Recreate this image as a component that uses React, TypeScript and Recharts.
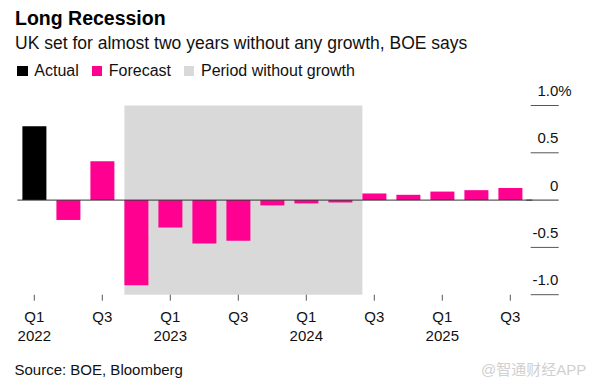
import { BarChart, Bar, XAxis, YAxis, ReferenceArea, ReferenceLine } from "recharts";

const QUARTERS = [
  "Q1 2022", "Q2 2022", "Q3 2022", "Q4 2022",
  "Q1 2023", "Q2 2023", "Q3 2023", "Q4 2023",
  "Q1 2024", "Q2 2024", "Q3 2024", "Q4 2024",
  "Q1 2025", "Q2 2025", "Q3 2025",
];
const ACTUAL = [0.78, null, null, null, null, null, null, null, null, null, null, null, null, null, null];
const FORECAST = [null, -0.21, 0.41, -0.9, -0.29, -0.46, -0.43, -0.056, -0.035, -0.025, 0.07, 0.056, 0.09, 0.105, 0.127];
const Y_TICKS = [-1, -0.5, 0, 0.5, 1];
const NO_GROWTH_FROM = "Q4 2022";
const NO_GROWTH_TO = "Q2 2024";

const data = QUARTERS.map((q, i) => ({ q, actual: ACTUAL[i], forecast: FORECAST[i] }));

const FONT = '"Liberation Sans", Arial, "Noto Sans CJK SC", sans-serif';
const PINK = "#FF0090";
const GREY_AREA = "#D9D9D9";
const GAP = 0.15; // barCategoryGap
const BAND = 34;

function XTick({ x, y, payload }: any) {
  const [qtr, year] = String(payload.value).split(" ");
  return (
    <g>
      <text x={x} y={y + 19} textAnchor="middle" fontSize={15} fill="#111" fontFamily={FONT}>{qtr}</text>
      {qtr === "Q1" && (
        <text x={x} y={y + 38.3} textAnchor="middle" fontSize={15} fill="#111" fontFamily={FONT}>{year}</text>
      )}
    </g>
  );
}

function YTick({ x, y, payload }: any) {
  const v = payload.value as number;
  const label = v === 0 ? "0" : v.toFixed(1);
  return (
    <g>
      {v === 0
        ? <line x1={x - 1} x2={x + 31.4} y1={y} y2={y} stroke="#333" strokeWidth={1} />
        : <line x1={x + 3.4} x2={x + 31.4} y1={y} y2={y} stroke="#555" strokeWidth={1} />}
      <text x={x + 31} y={y - 9.5} textAnchor="end" fontSize={15} fill="#111" fontFamily={FONT}>{label}</text>
      {v === 1 && (
        <text x={x + 31} y={y - 9.5} textAnchor="start" fontSize={15} fill="#111" fontFamily={FONT}>%</text>
      )}
    </g>
  );
}

// the shaded period starts at the left edge of the first bar, not the band
function AreaShape({ x, y, width, height }: any) {
  return <rect x={x + BAND * GAP} y={y} width={width} height={height} fill={GREY_AREA} />;
}

function ZeroLine({ x1, x2, y1 }: any) {
  return <line x1={x1 + BAND * GAP} x2={x2} y1={y1} y2={y1} stroke="#333" strokeWidth={1} />;
}

function LegendItem({ color, label }: { color: string; label: string }) {
  return (
    <div style={{ display: "flex", alignItems: "center", marginRight: 13 }}>
      <div style={{ width: 10.4, height: 10.4, background: color, marginRight: 6.6, marginTop: 1 }} />
      <span>{label}</span>
    </div>
  );
}

export default function App() {
  return (
    <div style={{ position: "absolute", left: 0, top: 0, width: 599, height: 388, background: "#fff", fontFamily: FONT, color: "#111" }}>
      <div style={{ position: "absolute", left: 15, top: 8.5, fontSize: 19.5, lineHeight: "19.5px", fontWeight: 700, color: "#000" }}>
        Long Recession
      </div>
      <div style={{ position: "absolute", left: 15, top: 34.5, fontSize: 17.5, lineHeight: "17.5px" }}>
        UK set for almost two years without any growth, BOE says
      </div>
      <div style={{ position: "absolute", left: 17.3, top: 62.5, fontSize: 16, lineHeight: "16px", display: "flex" }}>
        <LegendItem color="#000" label="Actual" />
        <LegendItem color={PINK} label="Forecast" />
        <LegendItem color={GREY_AREA} label="Period without growth" />
      </div>

      <div style={{ position: "absolute", left: 0, top: 0 }}>
        <BarChart
          width={599}
          height={388}
          data={data}
          margin={{ top: 105.5, right: 11.7, left: 17.3, bottom: 33.3 }}
          barCategoryGap={`${GAP * 100}%`}
        >
          <ReferenceArea
            x1={NO_GROWTH_FROM}
            x2={NO_GROWTH_TO}
            y1={-1}
            y2={1}
            shape={AreaShape}
            ifOverflow="visible"
          />
          <XAxis
            dataKey="q"
            interval={1}
            axisLine={false}
            tickLine={{ stroke: "#555" }}
            tickSize={6}
            tickMargin={2}
            height={60}
            tick={XTick}
          />
          <YAxis
            orientation="right"
            domain={[-1, 1]}
            ticks={Y_TICKS}
            axisLine={false}
            tickLine={false}
            tickSize={0}
            tickMargin={0}
            width={60}
            tick={YTick}
          />
          <Bar dataKey="actual" stackId="a" fill="#000" isAnimationActive={false} />
          <Bar dataKey="forecast" stackId="a" fill={PINK} isAnimationActive={false} />
          <ReferenceLine y={0} shape={ZeroLine} ifOverflow="visible" />
        </BarChart>
      </div>

      <div style={{ position: "absolute", left: 14.5, top: 362.3, fontSize: 15, lineHeight: "15px" }}>
        Source: BOE, Bloomberg
      </div>
      <div style={{ position: "absolute", left: 481, top: 362.3, fontSize: 15, lineHeight: "15px", color: "#D0D0D0" }}>
        @智通财经APP
      </div>
    </div>
  );
}
